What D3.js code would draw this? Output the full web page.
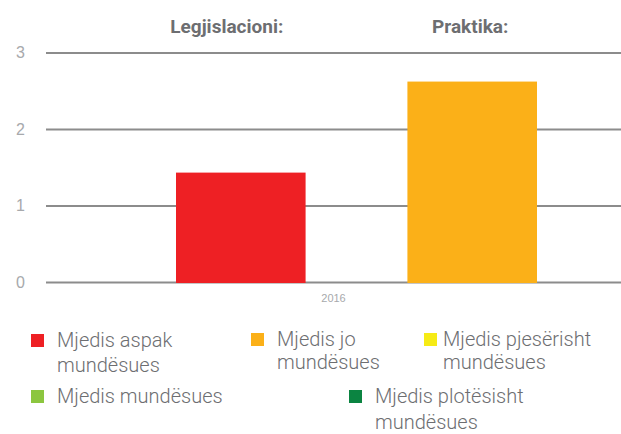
<!DOCTYPE html>
<html>
<head>
<meta charset="utf-8">
<script src="https://cdn.jsdelivr.net/npm/d3@7"></script>
<style>
  body { margin: 0; background: #fff; }
  svg { display: block; font-family: Roboto, "Open Sans", sans-serif; }
  .grid line { stroke: #8c8c8c; stroke-width: 2; }
  .grid text { fill: #a7a9ac; font-size: 16px; font-weight: 300; }
  .xaxis text { fill: #a7a9ac; font-size: 11px; font-weight: 300; }
  .header { fill: #6d6e71; font-size: 19px; font-weight: bold; }
  .legend text { fill: #6d6e71; font-size: 20px; font-weight: 300; }
</style>
</head>
<body>
<svg></svg>
<script>
const categories = ["2016"]
const series = ["Legjislacioni:", "Praktika:"]
const values = [1.43, 2.62]
const barColors = ["#ee2024", "#fbb018"]
const yTicks = [0, 1, 2, 3]

const legendLabels = [
  "Mjedis aspak\nmundësues",
  "Mjedis jo\nmundësues",
  "Mjedis pjesërisht\nmundësues",
  "Mjedis mundësues",
  "Mjedis plotësisht\nmundësues"
]
const legendColors = ["#ee2024", "#fbb018", "#f6eb16", "#8cc63f", "#0b8441"]

const svg = d3.select("svg")
  .attr("width", 621)
  .attr("height", 434)

const left = 46, right = 621

const y = d3.scaleLinear()
  .domain([0, 3])
  .range([282, 52.5])

const x0 = d3.scaleBand()
  .domain(categories)
  .range([left, right])

const x1 = d3.scaleBand()
  .domain(series)
  .range([130, 491])
  .paddingInner(0.44)

const yAxis = d3.axisLeft(y)
  .tickValues(yTicks)
  .tickFormat(d3.format("d"))
  .tickSize(-(right - left))
  .tickPadding(21)

svg.append("g")
  .attr("class", "grid")
  .attr("transform", `translate(${left}, 0)`)
  .call(yAxis)
  .call(g => g.select(".domain").remove())

const xAxis = d3.axisBottom(x0)
  .tickSize(0)
  .tickPadding(12)

svg.append("g")
  .attr("class", "xaxis")
  .attr("transform", `translate(0, ${y(0)})`)
  .call(xAxis)
  .call(g => g.select(".domain").remove())

const groups = svg.append("g")
  .selectAll("g")
  .data(categories)
  .join("g")
  .attr("transform", d => `translate(${x0(d)}, 0)`)

groups.selectAll("rect")
  .data(series.map((s, i) => ({ s: s, v: values[i], c: barColors[i] })))
  .join("rect")
  .attr("x", d => x1(d.s))
  .attr("width", x1.bandwidth())
  .attr("y", d => y(d.v))
  .attr("height", d => y(0) - y(d.v) + 1)
  .attr("fill", d => d.c)

groups.selectAll("text.header")
  .data(series)
  .join("text")
  .attr("class", "header")
  .attr("x", (d, i) => x1(d) + x1.bandwidth() / 2 - (i === 0 ? 14 : 2))
  .attr("y", 33)
  .attr("text-anchor", "middle")
  .text(d => d)

// legend layout: [square x, text x, first baseline, line gap]
const legendPos = [
  [31, 57, 347, 25],
  [251, 277, 346, 23],
  [424, 443, 346, 23],
  [31, 57, 403, 0],
  [349, 375, 403, 26]
]

const legend = svg.append("g")
  .attr("class", "legend")
  .selectAll("g")
  .data(legendLabels)
  .join("g")

legend.append("rect")
  .attr("x", (d, i) => legendPos[i][0])
  .attr("y", (d, i) => legendPos[i][2] - 13)
  .attr("width", 13)
  .attr("height", 13)
  .attr("fill", (d, i) => legendColors[i])

legend.append("text")
  .each(function(d, i) {
    const p = legendPos[i]
    d3.select(this).selectAll("tspan")
      .data(d.split("\n"))
      .join("tspan")
      .attr("x", p[1])
      .attr("y", (l, j) => p[2] + j * p[3])
      .text(l => l)
  })
</script>
</body>
</html>
